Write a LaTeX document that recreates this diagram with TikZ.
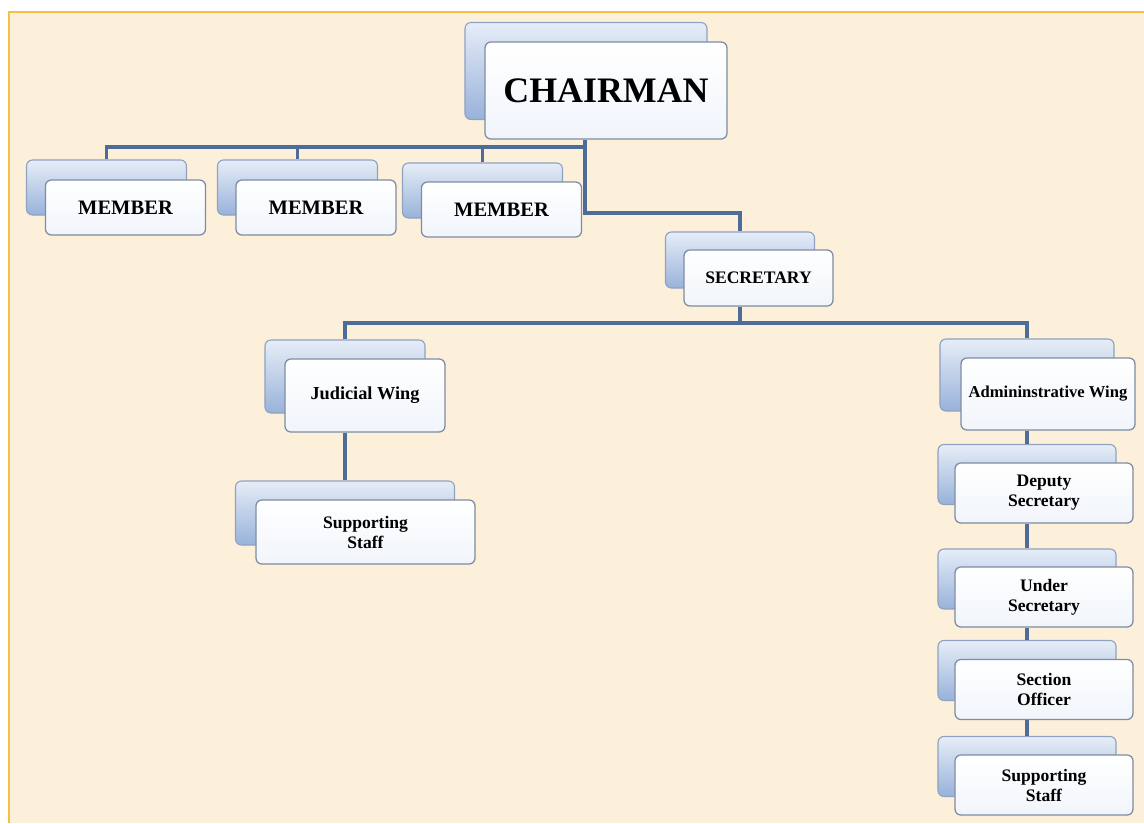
\documentclass[tikz,border=0pt]{standalone}
\usepackage{fontspec}
\setmainfont{Liberation Serif}
\usetikzlibrary{positioning,calc}

\definecolor{pagebg}{HTML}{FDF0DB}
\definecolor{pageline}{HTML}{F8BF45}
\definecolor{linkcol}{HTML}{4E6C98}
\definecolor{backtop}{HTML}{E6EDF7}
\definecolor{backbot}{HTML}{98B2DA}
\definecolor{backedge}{HTML}{8FA2C2}
\definecolor{frontedge}{HTML}{7D8CA3}
\definecolor{frontbot}{HTML}{F1F5FB}

\tikzset{
  backbox/.style={draw=backedge, line width=0.8pt, rounded corners=0.15cm,
    top color=backtop, bottom color=backbot, inner sep=0pt},
  frontbox/.style={draw=frontedge, line width=0.9pt, rounded corners=0.15cm,
    top color=white, bottom color=frontbot, inner sep=0pt, align=center,
    font=\bfseries\fontsize{12.5}{14.2}\selectfont},
  link/.style={draw=linkcol, line width=2.3pt}
}

\begin{document}
\begin{tikzpicture}[x=0.025cm, y=-0.025cm]
\useasboundingbox (0,0) rectangle (1144,823);
% page
\fill[pagebg] (9,13) rectangle (1144,823);
\draw[pageline, line width=1.6pt] (8,12) -- (1144,12);
\draw[pageline, line width=1.2pt] (9,12) -- (9,823);

% chairman
\node[backbox, minimum width=6.05cm, minimum height=2.425cm] (chairB) at (586,71) {};
\node[frontbox, minimum width=6.05cm, minimum height=2.425cm,
  font=\bfseries\fontsize{25.5}{28}\selectfont] (chair) at (606,90.5) {CHAIRMAN};

% members
\node[backbox, minimum width=4cm, minimum height=1.375cm] (mem1B) at (106.5,187.5) {};
\node[frontbox, minimum width=4cm, minimum height=1.375cm,
  font=\bfseries\fontsize{14.6}{16}\selectfont] (mem1) at (125.5,207.5) {MEMBER};
\node[backbox, minimum width=4cm, minimum height=1.375cm] (mem2B) at (297.5,187.5) {};
\node[frontbox, minimum width=4cm, minimum height=1.375cm,
  font=\bfseries\fontsize{14.6}{16}\selectfont] (mem2) at (316,207.5) {MEMBER};
\node[backbox, minimum width=4cm, minimum height=1.375cm] (mem3B) at (482.5,190.5) {};
\node[frontbox, minimum width=4cm, minimum height=1.375cm,
  font=\bfseries\fontsize{14.6}{16}\selectfont] (mem3) at (501.5,209.5) {MEMBER};

% secretary
\node[backbox, minimum width=3.725cm, minimum height=1.4cm] (secB) at (740,260) {};
\node[frontbox, minimum width=3.725cm, minimum height=1.4cm,
  font=\bfseries\fontsize{12.5}{14}\selectfont] (sec) at (758.5,278) {SECRETARY};

% judicial wing
\node[backbox, minimum width=4cm, minimum height=1.825cm] (judB) at (345,376.5) {};
\node[frontbox, minimum width=4cm, minimum height=1.825cm,
  font=\bfseries\fontsize{13}{15}\selectfont] (jud) at (365,395.5) {Judicial Wing};
\node[backbox, minimum width=5.475cm, minimum height=1.6cm] (jstaffB) at (345,513) {};
\node[frontbox, minimum width=5.475cm, minimum height=1.6cm] (jstaff) at (365.5,532) {Supporting\\Staff};

% administrative wing
\node[backbox, minimum width=4.35cm, minimum height=1.8cm] (admB) at (1027,375) {};
\node[frontbox, minimum width=4.35cm, minimum height=1.8cm,
  font=\bfseries\fontsize{11.8}{13}\selectfont] (adm) at (1048,394) {Admininstrative Wing};
\node[backbox, minimum width=4.45cm, minimum height=1.5cm] (depB) at (1027,474.5) {};
\node[frontbox, minimum width=4.45cm, minimum height=1.5cm] (dep) at (1044,493) {Deputy\\Secretary};
\node[backbox, minimum width=4.45cm, minimum height=1.5cm] (undB) at (1027,579) {};
\node[frontbox, minimum width=4.45cm, minimum height=1.5cm] (und) at (1044,597) {Under\\Secretary};
\node[backbox, minimum width=4.45cm, minimum height=1.5cm] (sectB) at (1027,670.5) {};
\node[frontbox, minimum width=4.45cm, minimum height=1.5cm] (sect) at (1044,689.5) {Section\\Officer};
\node[backbox, minimum width=4.45cm, minimum height=1.5cm] (astaffB) at (1027,766.5) {};
\node[frontbox, minimum width=4.45cm, minimum height=1.5cm] (astaff) at (1044,785) {Supporting\\Staff};

% connectors
\coordinate (cbus) at (585,147);
\coordinate (sbus) at (585,213);
\coordinate (wbus) at (740,323);
\draw[link] (mem1B.north) |- (cbus) -| (mem3B.north);
\draw[link] (mem2B.north) -- (mem2B.north |- cbus);
\draw[link] (chair.south -| cbus) -- (sbus) -| (secB.north);
\draw[link] (secB.south |- sec.south) -- (wbus);
\draw[link] (judB.north) |- (wbus) -| (admB.north);
\draw[link] (judB.south |- jud.south) -- (jstaffB.north);
\draw[link] (admB.south |- adm.south) -- (depB.north);
\draw[link] (depB.south |- dep.south) -- (undB.north);
\draw[link] (undB.south |- und.south) -- (sectB.north);
\draw[link] (sectB.south |- sect.south) -- (astaffB.north);
\end{tikzpicture}
\end{document}
